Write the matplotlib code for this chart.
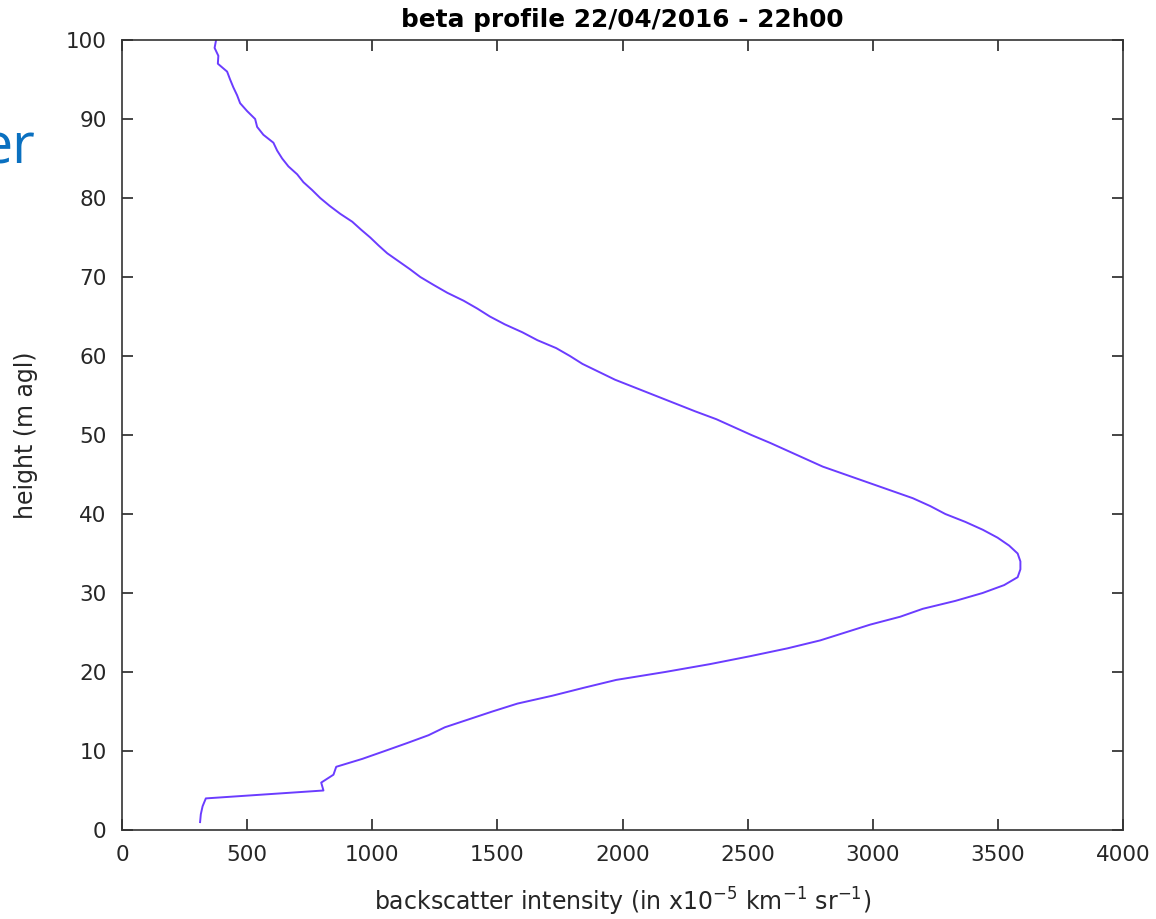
import matplotlib
matplotlib.use("Agg")
import matplotlib.pyplot as plt

heights = list(range(1, 101))
backscatter = [
    312, 315, 322, 335, 805, 796, 845, 856, 960, 1050,
    1139, 1225, 1290, 1385, 1480, 1580, 1720, 1845, 1975, 2170,
    2350, 2510, 2660, 2790, 2890, 2990, 3110, 3200, 3330, 3439,
    3525, 3579, 3590, 3590, 3579, 3545, 3499, 3440, 3370, 3290,
    3230, 3160, 3070, 2980, 2890, 2800, 2730, 2660, 2590, 2515,
    2445, 2375, 2290, 2210, 2130, 2050, 1970, 1905, 1840, 1790,
    1735, 1660, 1600, 1530, 1470, 1420, 1365, 1300, 1245, 1192,
    1150, 1105, 1060, 1025, 992, 955, 920, 872, 830, 792,
    760, 725, 700, 665, 640, 620, 605, 565, 540, 532,
    500, 472, 460, 445, 432, 420, 383, 385, 370, 376,
]
xticks = [0, 500, 1000, 1500, 2000, 2500, 3000, 3500, 4000]
yticks = [0, 10, 20, 30, 40, 50, 60, 70, 80, 90, 100]

txt = '#262626'
fig = plt.figure(figsize=(11.56, 9.19), dpi=100)
ax = fig.add_axes([122/1156, 89/919, 1001/1156, 790/919])
ax.plot(backscatter, heights, color='#6b3cff', lw=1.4)
ax.set_xlim(0, 4000)
ax.set_ylim(0, 100)
ax.set_xticks(xticks)
ax.set_yticks(yticks)
ax.tick_params(direction='in', top=True, right=True, length=8, width=1.2,
               labelsize=15.5, colors=txt, pad=11)
for s in ax.spines.values():
    s.set_color('#333333')
    s.set_linewidth(1.2)
ax.set_xlabel(r'backscatter intensity (in x10$^{-5}$ km$^{-1}$ sr$^{-1}$)',
              fontsize=17, color=txt, labelpad=15)
ax.set_ylabel('height (m agl)', fontsize=17, color=txt, labelpad=20)
ax.set_title('beta profile 22/04/2016 - 22h00', fontsize=17.8, fontweight='bold',
             color='black', pad=9)
fig.text(36/1156, (919-163)/919, 'er', ha='right', va='baseline', fontsize=40,
         color='#0a70c0', family='Open Sans')
fig.savefig('out.png', dpi=100)
